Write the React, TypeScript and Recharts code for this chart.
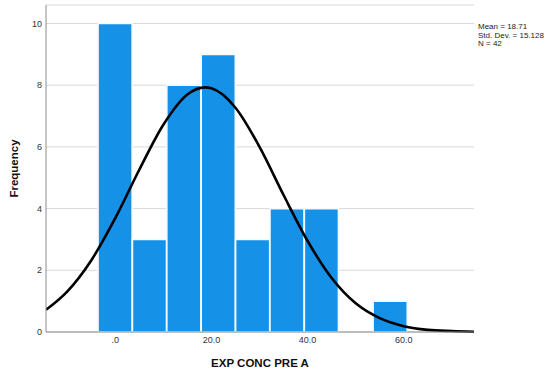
import { ComposedChart, Bar, Line, XAxis, YAxis, CartesianGrid, Label } from "recharts";

// histogram bins (bin midpoints) and counts
const binMids = [0, 7.15, 14.3, 21.45, 28.6, 35.75, 42.9, 50.05, 57.2];
const counts = [10, 3, 8, 9, 3, 4, 4, 0, 1];

// fitted normal curve, read at points along the x axis
const curveX = [-14.4, -10, -5, 0, 5, 10, 15, 18.7, 20, 25, 30, 35, 40, 45, 50, 55, 60, 65, 70, 74.6];
const curveY = [0.72, 1.31, 2.32, 3.69, 5.26, 6.72, 7.7, 7.93, 7.9, 7.27, 6.0, 4.44, 2.95, 1.75, 0.93, 0.45, 0.19, 0.07, 0.03, 0.01];

const xTicks = [0, 20, 40, 60];
const yTicks = [0, 2, 4, 6, 8, 10];
const stats = ["Mean = 18.71", "Std. Dev. = 15.128", "N = 42"];

const bins = binMids.map((x, i) => ({ x, freq: counts[i] }));
const curve = curveX.map((x, i) => ({ x, y: curveY[i] }));

const W = 547;
const H = 370;
const font = "'Liberation Sans', Arial, sans-serif";
const xDomain: [number, number] = [-14.4, 74.6];
const plotLeft = 46;
const plotRight = 474;
const binWidth = 7.15;
// a hair under the band so recharts doesn't shrink the bars
const barPx = (binWidth * (plotRight - plotLeft)) / (xDomain[1] - xDomain[0]) - 0.3;

const fmt = (v: number) => (v === 0 ? ".0" : v.toFixed(1));

export default function App() {
  return (
    <div style={{ position: "absolute", left: 0, top: 0, width: W, height: H, background: "#fff", fontFamily: font }}>
      <ComposedChart
        width={W}
        height={H}
        data={bins}
        margin={{ top: 5, right: W - plotRight, left: 0, bottom: 0 }}
        barCategoryGap={0}
        barGap={0}
      >
        <CartesianGrid vertical={false} stroke="#d9d9d9" />
        <XAxis
          dataKey="x"
          type="number"
          domain={xDomain}
          allowDataOverflow
          ticks={xTicks}
          tickFormatter={fmt}
          height={38}
          tickLine={false}
          tickSize={0}
          tickMargin={5}
          axisLine={{ stroke: "#8c8c8c" }}
          tick={{ fontSize: 9, fill: "#333", fontFamily: font }}
        >
          <Label
            value="EXP CONC PRE A"
            position="insideBottom"
            offset={3}
            style={{ fontSize: 11.5, fontWeight: "bold", fill: "#111", fontFamily: font }}
          />
        </XAxis>
        <XAxis xAxisId="curve" dataKey="x" type="number" domain={xDomain} allowDataOverflow hide />
        <YAxis
          type="number"
          domain={[0, 10.6]}
          ticks={yTicks}
          width={plotLeft}
          tickLine={false}
          tickSize={0}
          tickMargin={4}
          axisLine={{ stroke: "#8c8c8c" }}
          tick={{ fontSize: 9, fill: "#333", fontFamily: font }}
        >
          <Label
            value="Frequency"
            angle={-90}
            position="insideLeft"
            offset={14}
            style={{ fontSize: 11.5, fontWeight: "bold", fill: "#111", fontFamily: font, textAnchor: "middle" }}
          />
        </YAxis>
        <Bar dataKey="freq" fill="#1591e8" stroke="#f4f9fd" strokeWidth={1.6} barSize={barPx} isAnimationActive={false} />
        <Line
          xAxisId="curve"
          data={curve}
          dataKey="y"
          type="monotone"
          stroke="#000"
          strokeWidth={2.6}
          dot={false}
          activeDot={false}
          isAnimationActive={false}
        />
      </ComposedChart>
      {stats.map((s, i) => (
        <div
          key={s}
          style={{ position: "absolute", left: 478, top: 22 + i * 8.5, fontSize: 8, lineHeight: "9px", color: "#222", fontFamily: font }}
        >
          {s}
        </div>
      ))}
    </div>
  );
}
